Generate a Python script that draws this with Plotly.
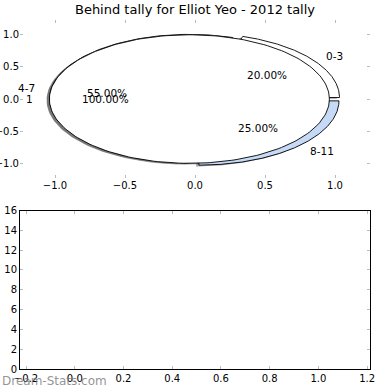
import numpy as np
import plotly.graph_objects as go

# ---- data ----
title = "Behind tally for Elliot Yeo - 2012 tally"
outer_labels = ["0-3", "4-7", "8-11"]
outer_values = [20, 55, 25]
outer_colors = ["#ffffff", "#ffffff", "#c6daf7"]
inner_labels = ["1"]
inner_values = [100]
inner_colors = ["#ffffff"]
explode = 0.04
shadow_off = -0.02
top_xticks = [-1.0, -0.5, 0.0, 0.5, 1.0]
top_yticks = [-1.0, -0.5, 0.0, 0.5, 1.0]
bottom_xticks = [-0.2, 0.0, 0.2, 0.4, 0.6, 0.8, 1.0, 1.2]
bottom_yticks = [0, 2, 4, 6, 8, 10, 12, 14, 16]
bottom_x = []
bottom_y = []


def wedges(values, labels, colors):
    total = float(sum(values))
    out = []
    start = 0.0
    for v, lab, col in zip(values, labels, colors):
        frac = v / total
        t1, t2 = start * 360, (start + frac) * 360
        mid = np.deg2rad((t1 + t2) / 2)
        cx, cy = explode * np.cos(mid), explode * np.sin(mid)
        th = np.deg2rad(np.linspace(t1, t2, 200))
        xs = cx + np.cos(th)
        ys = cy + np.sin(th)
        if frac < 1:
            xs = np.concatenate([[cx], xs, [cx]])
            ys = np.concatenate([[cy], ys, [cy]])
        out.append(dict(x=xs, y=ys, cx=cx, cy=cy, mid=mid, frac=frac,
                        label=lab, color=col))
        start += frac
    return out


outer = wedges(outer_values, outer_labels, outer_colors)
inner = wedges(inner_values, inner_labels, inner_colors)
allw = outer + inner


def shade(col):
    h = col.lstrip("#")
    r, g, b = [int(h[i:i + 2], 16) for i in (0, 2, 4)]
    return "rgba(%d,%d,%d,0.5)" % (0.3 * r, 0.3 * g, 0.3 * b)


fig = go.Figure()
# shadows first
for w in allw:
    fig.add_trace(go.Scatter(x=w["x"] + shadow_off, y=w["y"] + shadow_off,
                             mode="lines", fill="toself",
                             fillcolor=shade(w["color"]),
                             line=dict(width=0, color=shade(w["color"])),
                             hoverinfo="skip", showlegend=False,
                             xaxis="x", yaxis="y"))
for w in allw:
    fig.add_trace(go.Scatter(x=w["x"], y=w["y"], mode="lines", fill="toself",
                             fillcolor=w["color"],
                             line=dict(width=0.9, color="black"),
                             hoverinfo="skip", showlegend=False,
                             xaxis="x", yaxis="y"))

# empty lower panel
fig.add_trace(go.Scatter(x=bottom_x, y=bottom_y, mode="markers",
                         showlegend=False, hoverinfo="skip",
                         xaxis="x2", yaxis="y2"))

annotations = []
for w in allw:
    lx = w["cx"] + 1.1 * np.cos(w["mid"])
    ly = w["cy"] + 1.1 * np.sin(w["mid"])
    annotations.append(dict(x=lx, y=ly, xref="x", yref="y", text=w["label"],
                            showarrow=False,
                            xanchor="left" if lx > 0 else "right",
                            yanchor="middle",
                            font=dict(size=10.5, color="black")))
    px = w["cx"] + 0.6 * np.cos(w["mid"])
    py = w["cy"] + 0.6 * np.sin(w["mid"])
    annotations.append(dict(x=px, y=py, xref="x", yref="y",
                            text="%.2f%%" % (w["frac"] * 100),
                            showarrow=False, xanchor="center",
                            yanchor="middle",
                            font=dict(size=10.5, color="black")))

annotations.append(dict(x=-20 / 350, y=-0.034, xref="paper", yref="paper",
                        text="Dream-Stats.com", showarrow=False,
                        xanchor="left", yanchor="middle",
                        font=dict(size=12, color="rgba(120,120,120,0.8)")))

tickfont = dict(family="DejaVu Sans", size=10, color="black")
common = dict(showgrid=False, zeroline=False, ticks="inside", ticklen=3,
              tickcolor="#bbbbbb", tickwidth=1, tickfont=tickfont,
              tickformat=".1f", automargin=False)

fig.update_layout(
    width=390, height=390,
    margin=dict(l=20, r=20, t=20, b=21, autoexpand=False),
    paper_bgcolor="white", plot_bgcolor="white",
    font=dict(family="DejaVu Sans", color="black"),
    title=dict(text=title, x=0.5, xanchor="center", y=0.975, yanchor="middle",
               font=dict(size=13, family="DejaVu Sans", color="black")),
    showlegend=False,
    hovermode=False,
    annotations=annotations,
    xaxis=dict(domain=[0, 1], range=[-1.25, 1.25], tickvals=top_xticks,
               showline=False, mirror="ticks", anchor="y", **common),
    yaxis=dict(domain=[0.547, 1], range=[-1.23, 1.23], tickvals=top_yticks,
               showline=False, mirror="ticks", anchor="x", **common),
    xaxis2=dict(domain=[0, 1], range=[-0.225, 1.212], tickvals=bottom_xticks,
                showline=True, linecolor="black", linewidth=1,
                mirror="ticks", anchor="y2", **common),
    yaxis2=dict(domain=[0, 0.454], range=[0, 16], tickvals=bottom_yticks,
                showline=True, linecolor="black", linewidth=1,
                mirror="ticks", anchor="x2",
                **{k: v for k, v in common.items() if k != "tickformat"}),
)

fig.write_html("out.html",
               config={"displayModeBar": False},
               post_script="document.body.style.margin='0';"
                           "document.body.style.overflow='hidden';")
